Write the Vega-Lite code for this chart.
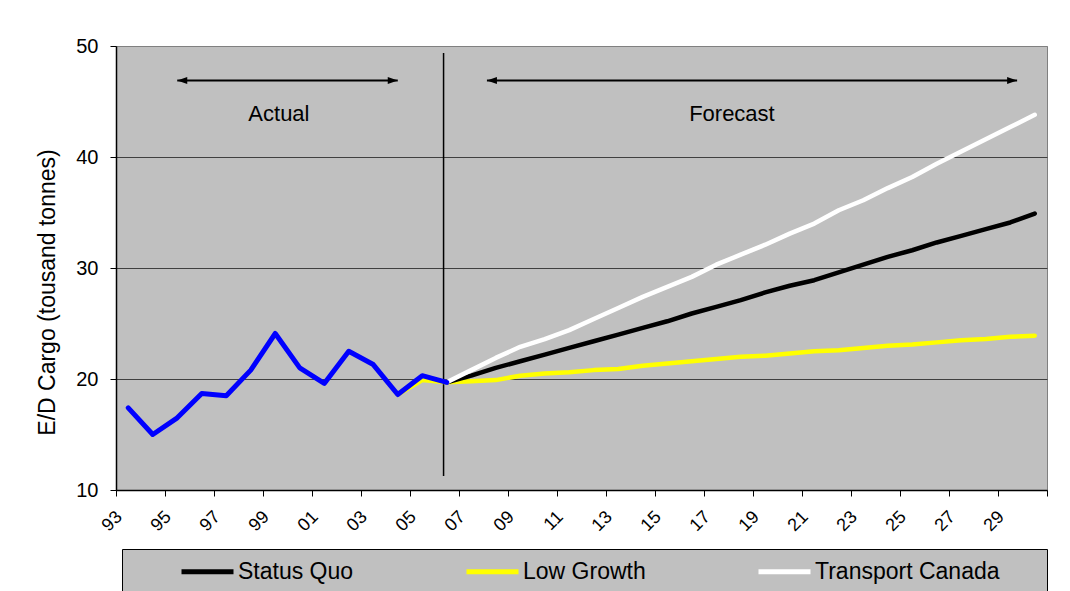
{
  "$schema": "https://vega.github.io/schema/vega-lite/v6.json",
  "width": 931,
  "height": 444,
  "autosize": {"type": "none"},
  "padding": {"left": 116, "top": 46, "right": 23, "bottom": 101},
  "background": "white",
  "config": {
    "font": "Liberation Sans",
    "view": {"fill": "#C0C0C0", "stroke": "#808080", "strokeWidth": 1}
  },
  "datasets": {
    "actual": [
      {"year": 1993, "value": 17.4}, {"year": 1994, "value": 15.0}, {"year": 1995, "value": 16.5},
      {"year": 1996, "value": 18.7}, {"year": 1997, "value": 18.5}, {"year": 1998, "value": 20.8},
      {"year": 1999, "value": 24.1}, {"year": 2000, "value": 21.0}, {"year": 2001, "value": 19.6},
      {"year": 2002, "value": 22.5}, {"year": 2003, "value": 21.3}, {"year": 2004, "value": 18.6},
      {"year": 2005, "value": 20.3}, {"year": 2006, "value": 19.7}
    ],
    "forecast": [
      {"series": "Low Growth", "year": 2004, "value": 18.6},
      {"series": "Low Growth", "year": 2005, "value": 19.9},
      {"series": "Low Growth", "year": 2006, "value": 19.7},
      {"series": "Low Growth", "year": 2007, "value": 19.8},
      {"series": "Low Growth", "year": 2008, "value": 19.9},
      {"series": "Low Growth", "year": 2009, "value": 20.3},
      {"series": "Low Growth", "year": 2010, "value": 20.5},
      {"series": "Low Growth", "year": 2011, "value": 20.6},
      {"series": "Low Growth", "year": 2012, "value": 20.8},
      {"series": "Low Growth", "year": 2013, "value": 20.9},
      {"series": "Low Growth", "year": 2014, "value": 21.2},
      {"series": "Low Growth", "year": 2015, "value": 21.4},
      {"series": "Low Growth", "year": 2016, "value": 21.6},
      {"series": "Low Growth", "year": 2017, "value": 21.8},
      {"series": "Low Growth", "year": 2018, "value": 22.0},
      {"series": "Low Growth", "year": 2019, "value": 22.1},
      {"series": "Low Growth", "year": 2020, "value": 22.3},
      {"series": "Low Growth", "year": 2021, "value": 22.5},
      {"series": "Low Growth", "year": 2022, "value": 22.6},
      {"series": "Low Growth", "year": 2023, "value": 22.8},
      {"series": "Low Growth", "year": 2024, "value": 23.0},
      {"series": "Low Growth", "year": 2025, "value": 23.1},
      {"series": "Low Growth", "year": 2026, "value": 23.3},
      {"series": "Low Growth", "year": 2027, "value": 23.5},
      {"series": "Low Growth", "year": 2028, "value": 23.6},
      {"series": "Low Growth", "year": 2029, "value": 23.8},
      {"series": "Low Growth", "year": 2030, "value": 23.9},
      {"series": "Status Quo", "year": 2006, "value": 19.7},
      {"series": "Status Quo", "year": 2007, "value": 20.3},
      {"series": "Status Quo", "year": 2008, "value": 21.0},
      {"series": "Status Quo", "year": 2009, "value": 21.6},
      {"series": "Status Quo", "year": 2010, "value": 22.2},
      {"series": "Status Quo", "year": 2011, "value": 22.8},
      {"series": "Status Quo", "year": 2012, "value": 23.4},
      {"series": "Status Quo", "year": 2013, "value": 24.0},
      {"series": "Status Quo", "year": 2014, "value": 24.6},
      {"series": "Status Quo", "year": 2015, "value": 25.2},
      {"series": "Status Quo", "year": 2016, "value": 25.9},
      {"series": "Status Quo", "year": 2017, "value": 26.5},
      {"series": "Status Quo", "year": 2018, "value": 27.1},
      {"series": "Status Quo", "year": 2019, "value": 27.8},
      {"series": "Status Quo", "year": 2020, "value": 28.4},
      {"series": "Status Quo", "year": 2021, "value": 28.9},
      {"series": "Status Quo", "year": 2022, "value": 29.6},
      {"series": "Status Quo", "year": 2023, "value": 30.3},
      {"series": "Status Quo", "year": 2024, "value": 31.0},
      {"series": "Status Quo", "year": 2025, "value": 31.6},
      {"series": "Status Quo", "year": 2026, "value": 32.3},
      {"series": "Status Quo", "year": 2027, "value": 32.9},
      {"series": "Status Quo", "year": 2028, "value": 33.5},
      {"series": "Status Quo", "year": 2029, "value": 34.1},
      {"series": "Status Quo", "year": 2030, "value": 34.9},
      {"series": "Transport Canada", "year": 2006, "value": 19.7},
      {"series": "Transport Canada", "year": 2007, "value": 20.8},
      {"series": "Transport Canada", "year": 2008, "value": 21.9},
      {"series": "Transport Canada", "year": 2009, "value": 22.9},
      {"series": "Transport Canada", "year": 2010, "value": 23.6},
      {"series": "Transport Canada", "year": 2011, "value": 24.4},
      {"series": "Transport Canada", "year": 2012, "value": 25.4},
      {"series": "Transport Canada", "year": 2013, "value": 26.4},
      {"series": "Transport Canada", "year": 2014, "value": 27.4},
      {"series": "Transport Canada", "year": 2015, "value": 28.3},
      {"series": "Transport Canada", "year": 2016, "value": 29.2},
      {"series": "Transport Canada", "year": 2017, "value": 30.3},
      {"series": "Transport Canada", "year": 2018, "value": 31.2},
      {"series": "Transport Canada", "year": 2019, "value": 32.1},
      {"series": "Transport Canada", "year": 2020, "value": 33.1},
      {"series": "Transport Canada", "year": 2021, "value": 34.0},
      {"series": "Transport Canada", "year": 2022, "value": 35.2},
      {"series": "Transport Canada", "year": 2023, "value": 36.1},
      {"series": "Transport Canada", "year": 2024, "value": 37.2},
      {"series": "Transport Canada", "year": 2025, "value": 38.2},
      {"series": "Transport Canada", "year": 2026, "value": 39.4},
      {"series": "Transport Canada", "year": 2027, "value": 40.5},
      {"series": "Transport Canada", "year": 2028, "value": 41.6},
      {"series": "Transport Canada", "year": 2029, "value": 42.7},
      {"series": "Transport Canada", "year": 2030, "value": 43.8}
    ],
    "divider": [{"year": 2005.87, "value": 11.26, "value2": 49.37}],
    "arrows": [
      {"label": "Actual", "year": 1995.0, "year2": 2004.0, "value": 46.9},
      {"label": "Forecast", "year": 2007.64, "year2": 2029.28, "value": 46.9}
    ],
    "arrowLabels": [
      {"label": "Actual", "year": 1999.15, "value": 43.87},
      {"label": "Forecast", "year": 2017.64, "value": 43.87}
    ]
  },
  "layer": [
    {
      "data": {"name": "divider"},
      "mark": {"type": "rule", "color": "#000000", "strokeWidth": 1.5},
      "encoding": {
        "x": {
          "field": "year", "type": "quantitative",
          "scale": {"domain": [1992.5, 2030.5], "nice": false, "zero": false},
          "axis": {
            "title": null,
            "values": [1992.5, 1993.5, 1994.5, 1995.5, 1996.5, 1997.5, 1998.5, 1999.5, 2000.5, 2001.5, 2002.5, 2003.5, 2004.5, 2005.5, 2006.5, 2007.5, 2008.5, 2009.5, 2010.5, 2011.5, 2012.5, 2013.5, 2014.5, 2015.5, 2016.5, 2017.5, 2018.5, 2019.5, 2020.5, 2021.5, 2022.5, 2023.5, 2024.5, 2025.5, 2026.5, 2027.5, 2028.5, 2029.5, 2030.5],
            "labelExpr": "((datum.value + 0.5) % 2 == 1 && datum.value < 2030) ? substring(toString(datum.value + 0.5), 2) : ''",
            "labelAngle": -45,
            "labelAlign": "right",
            "labelBaseline": "middle",
            "labelOffset": 3,
            "labelPadding": 18,
            "labelFontSize": 18,
            "labelColor": "#000000",
            "labelOverlap": false,
            "labelFlush": false,
            "labelBound": false,
            "tickSize": 6,
            "tickColor": "#000000",
            "tickWidth": 1,
            "domainColor": "#000000",
            "domainWidth": 1.5,
            "grid": false
          }
        },
        "y": {
          "field": "value", "type": "quantitative",
          "scale": {"domain": [10, 50], "nice": false, "zero": false},
          "axis": {
            "title": "E/D Cargo (tousand tonnes)",
            "values": [10, 20, 30, 40, 50],
            "grid": true,
            "gridColor": {"condition": {"test": "datum.value == 50", "value": "#808080"}, "value": "#404040"},
            "gridWidth": 1,
            "tickSize": 6,
            "tickColor": "#000000",
            "domainColor": "#000000",
            "domainWidth": 1.5,
            "labelFontSize": 20,
            "labelPadding": 12,
            "labelColor": "#000000",
            "titleFontSize": 23,
            "titleFontWeight": "normal",
            "titleColor": "#000000",
            "titleAngle": -90,
            "titleAlign": "center",
            "titleBaseline": "top",
            "titleX": -80,
            "titleY": 246
          }
        },
        "y2": {"field": "value2"}
      }
    },
    {
      "data": {"name": "forecast"},
      "mark": {"type": "line", "strokeWidth": 4.5, "strokeCap": "round", "strokeJoin": "round"},
      "encoding": {
        "x": {"field": "year", "type": "quantitative", "title": null},
        "y": {"field": "value", "type": "quantitative"},
        "color": {
          "field": "series", "type": "nominal",
          "scale": {"domain": ["Status Quo", "Low Growth", "Transport Canada"], "range": ["#000000", "#FFFF00", "#FFFFFF"]},
          "legend": {
            "orient": "none",
            "legendX": 6,
            "legendY": 503,
            "direction": "horizontal",
            "title": ".",
            "titleOrient": "right",
            "titleFontSize": 8,
            "titleColor": "#C0C0C0",
            "titlePadding": 37,
            "symbolType": "M-2,0H2",
            "symbolSize": 676,
            "symbolStrokeWidth": 5,
            "symbolFillColor": "transparent",
            "symbolOffset": 63,
            "labelOffset": 15,
            "labelFontSize": 23,
            "labelLimit": 400,
            "labelColor": "#000000",
            "columnPadding": 60,
            "padding": 7,
            "fillColor": "#C0C0C0",
            "strokeColor": "#000000"
          }
        }
      }
    },
    {
      "data": {"name": "actual"},
      "mark": {"type": "line", "color": "#0000FF", "strokeWidth": 5, "strokeCap": "round", "strokeJoin": "round"},
      "encoding": {
        "x": {"field": "year", "type": "quantitative", "title": null},
        "y": {"field": "value", "type": "quantitative"}
      }
    },
    {
      "data": {"name": "arrows"},
      "mark": {"type": "rule", "color": "#000000", "strokeWidth": 2},
      "encoding": {
        "x": {"field": "year", "type": "quantitative", "title": null},
        "x2": {"field": "year2"},
        "y": {"field": "value", "type": "quantitative"}
      }
    },
    {
      "data": {"name": "arrows"},
      "mark": {"type": "point", "shape": "M0,0L1,-0.35L1,0.35Z", "filled": true, "color": "#000000", "size": 400, "opacity": 1},
      "encoding": {
        "x": {"field": "year", "type": "quantitative", "title": null},
        "y": {"field": "value", "type": "quantitative"}
      }
    },
    {
      "data": {"name": "arrows"},
      "mark": {"type": "point", "shape": "M0,0L-1,-0.35L-1,0.35Z", "filled": true, "color": "#000000", "size": 400, "opacity": 1},
      "encoding": {
        "x": {"field": "year2", "type": "quantitative", "title": null},
        "y": {"field": "value", "type": "quantitative"}
      }
    },
    {
      "data": {"name": "arrowLabels"},
      "mark": {"type": "text", "fontSize": 22, "color": "#000000", "align": "center", "baseline": "middle"},
      "encoding": {
        "x": {"field": "year", "type": "quantitative", "title": null},
        "y": {"field": "value", "type": "quantitative"},
        "text": {"field": "label"}
      }
    }
  ]
}
